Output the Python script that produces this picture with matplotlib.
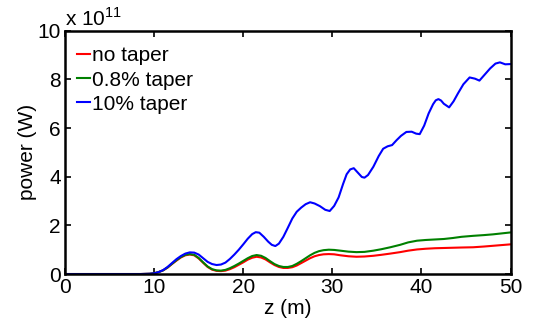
import numpy as np
import matplotlib.pyplot as plt

plt.rcParams['font.family'] = ['Liberation Sans', 'DejaVu Sans']
plt.rcParams['mathtext.fontset'] = 'custom'
plt.rcParams['mathtext.rm'] = 'Liberation Sans'

# power in units of 1e11 W
z_blue = [0, 8.5, 9.5, 10, 10.5, 11, 11.5, 12, 12.5, 13, 13.5, 14, 14.5, 15, 15.5, 16,
          16.5, 17, 17.5, 18, 18.5, 19, 19.5, 20, 20.5, 21, 21.4, 21.8, 22.3, 22.8,
          23.2, 23.6, 24, 24.5, 25, 25.5, 26, 26.5, 27, 27.5, 28, 28.6, 29.2, 29.7,
          30.2, 30.7, 31.2, 31.6, 32, 32.4, 32.9, 33.3, 33.6, 34, 34.6, 35.2, 35.7,
          36.2, 36.7, 37.2, 37.7, 38.3, 38.9, 39.4, 39.8, 40.3, 40.8, 41.3, 41.6, 41.9,
          42.2, 42.5, 43.1, 43.6, 44.1, 44.7, 45.4, 46, 46.5, 47.1, 47.7, 48.3, 48.8,
          49.4, 50]
p_blue = [0, 0, 0.01, 0.03, 0.08, 0.16, 0.29, 0.45, 0.61, 0.74, 0.84, 0.89, 0.88, 0.8,
          0.65, 0.5, 0.41, 0.37, 0.39, 0.47, 0.62, 0.8, 1.0, 1.22, 1.45, 1.64, 1.72,
          1.7, 1.53, 1.33, 1.2, 1.15, 1.25, 1.53, 1.9, 2.28, 2.56, 2.73, 2.87, 2.95,
          2.9, 2.79, 2.64, 2.59, 2.8, 3.15, 3.7, 4.1, 4.3, 4.35, 4.15, 3.99, 3.96, 4.07,
          4.41, 4.85, 5.15, 5.25, 5.3, 5.5, 5.68, 5.84, 5.85, 5.77, 5.75, 6.1, 6.6,
          6.98, 7.14, 7.19, 7.13, 7.0, 6.85, 7.1, 7.43, 7.8, 8.08, 8.03, 7.95, 8.2,
          8.45, 8.65, 8.7, 8.62, 8.63]

z_taper = [0, 8.5, 9.5, 10, 10.5, 11, 11.5, 12, 12.5, 13, 13.5, 14, 14.5, 15, 15.5, 16,
           16.5, 17, 17.5, 18, 18.5, 19, 19.5, 20, 20.5, 21, 21.5, 22, 22.5, 23, 23.5,
           24, 24.5, 25, 25.5, 26, 26.5, 27, 27.5, 28, 28.5, 29, 29.6, 30.2, 30.9,
           31.8, 32.7, 33.6, 34.6, 35.5, 36.5, 37.6, 38.5, 39.5, 40.5, 41.5, 42.5,
           43.5, 44.5, 45.8, 47, 48, 49, 50]
p_green = [0, 0, 0.01, 0.03, 0.08, 0.15, 0.27, 0.42, 0.57, 0.7, 0.79, 0.82, 0.79, 0.66,
           0.48, 0.31, 0.2, 0.15, 0.14, 0.17, 0.24, 0.33, 0.43, 0.54, 0.65, 0.74, 0.78,
           0.75, 0.66, 0.53, 0.41, 0.33, 0.29, 0.29, 0.33, 0.42, 0.53, 0.65, 0.77, 0.87,
           0.94, 0.98, 1.0, 0.99, 0.96, 0.92, 0.9, 0.91, 0.96, 1.02, 1.1, 1.2, 1.3,
           1.37, 1.4, 1.42, 1.44, 1.48, 1.53, 1.57, 1.6, 1.63, 1.67, 1.71]
p_red = [0, 0, 0.01, 0.03, 0.08, 0.15, 0.26, 0.41, 0.55, 0.68, 0.77, 0.8, 0.77, 0.64,
         0.46, 0.29, 0.18, 0.13, 0.12, 0.14, 0.2, 0.28, 0.38, 0.48, 0.59, 0.67, 0.71,
         0.68, 0.6, 0.48, 0.37, 0.29, 0.25, 0.25, 0.28, 0.35, 0.45, 0.55, 0.65, 0.73,
         0.78, 0.81, 0.82, 0.81, 0.77, 0.73, 0.71, 0.72, 0.75, 0.79, 0.84, 0.9, 0.96,
         1.01, 1.04, 1.06, 1.07, 1.08, 1.09, 1.1, 1.13, 1.16, 1.19, 1.22]

fig = plt.figure(figsize=(5.33, 3.27), dpi=100)
ax = fig.add_axes([0.122, 0.162, 0.836, 0.744])

ax.plot(z_taper, p_red, color='#ff0000', lw=1.5, label='no taper')
ax.plot(z_taper, p_green, color='#008000', lw=1.5, label='0.8% taper')
ax.plot(z_blue, p_blue, color='#0000ff', lw=1.5, label='10% taper')

ax.set_xlim(0, 50)
ax.set_ylim(0, 10)
ax.set_xticks([0, 10, 20, 30, 40, 50])
ax.set_yticks([0, 2, 4, 6, 8, 10])
ax.tick_params(direction='in', length=4, width=1.2, labelsize=15,
               top=True, right=True, pad=3)
for s in ax.spines.values():
    s.set_linewidth(1.8)

ax.set_xlabel('z (m)', fontsize=15, labelpad=1)
ax.set_ylabel('power (W)', fontsize=15, labelpad=0)
ax.text(0.0, 1.005, r'x 10$^{\mathregular{11}}$', transform=ax.transAxes,
        fontsize=15, ha='left', va='bottom')

ax.legend(loc='upper left', bbox_to_anchor=(-0.008, 1.0), frameon=False,
          fontsize=15, handlelength=0.6, handletextpad=0.1, labelspacing=0.25,
          borderaxespad=0.35)

fig.savefig('out.png', dpi=100)
